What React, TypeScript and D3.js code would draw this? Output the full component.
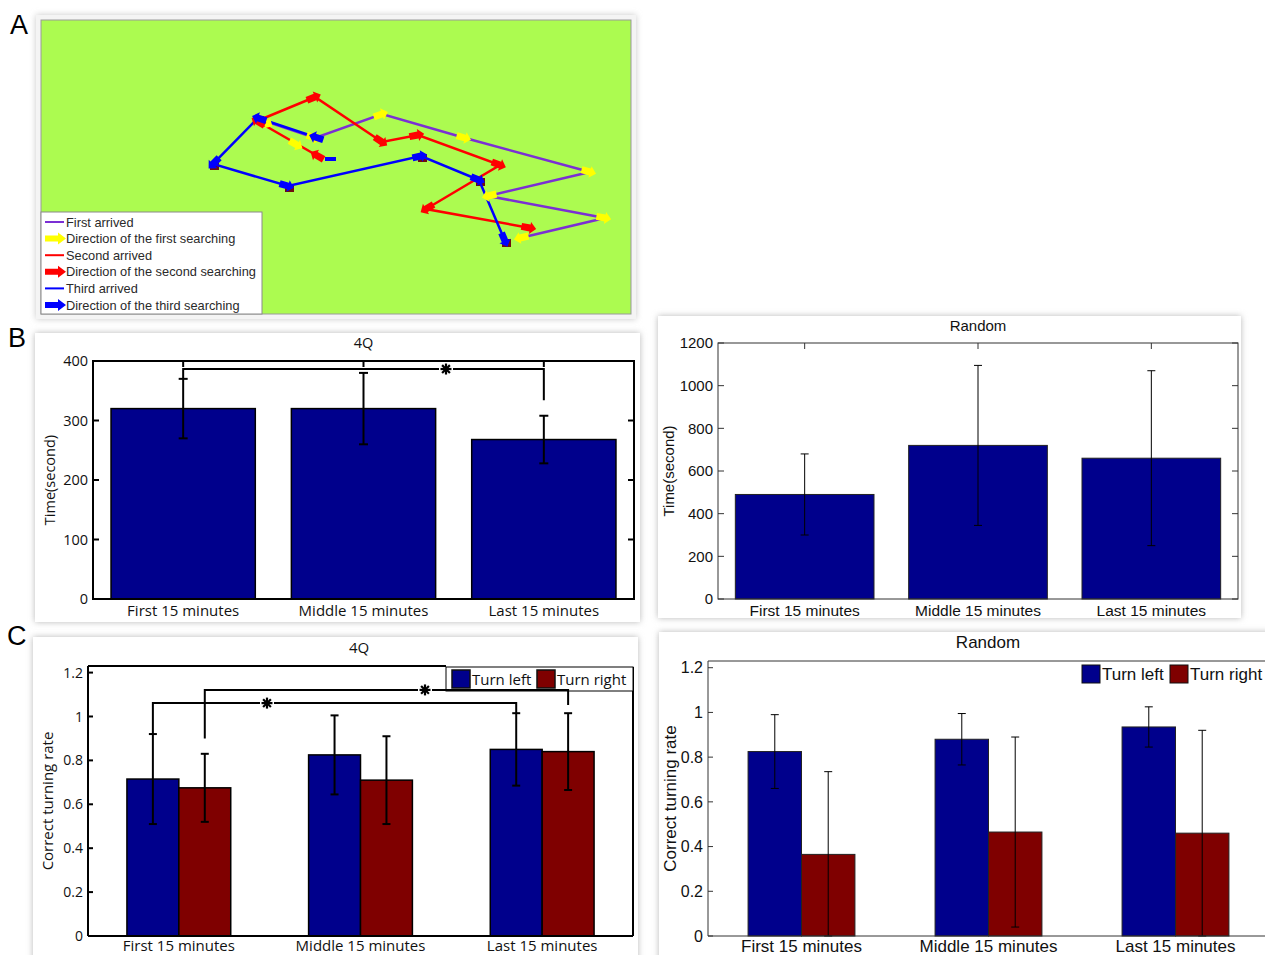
import React from 'react';
import * as d3 from 'd3';

// ---------- DATA ----------
const categories = ['First 15 minutes', 'Middle 15 minutes', 'Last 15 minutes'];

const time4QMean = [320, 320, 268];
const time4QErr = [50, 60, 40];
const time4QTicks = [0, 100, 200, 300, 400];

const timeRandomMean = [490, 720, 660];
const timeRandomErr = [190, 375, 410];
const timeRandomTicks = [0, 200, 400, 600, 800, 1000, 1200];

const turnLeft4Q = [0.715, 0.825, 0.85];
const turnLeft4QErr = [0.205, 0.18, 0.165];
const turnRight4Q = [0.675, 0.71, 0.84];
const turnRight4QErr = [0.155, 0.2, 0.175];

const turnLeftRandom = [0.825, 0.88, 0.935];
const turnLeftRandomErr = [0.165, 0.115, 0.09];
const turnRightRandom = [0.365, 0.465, 0.46];
const turnRightRandomErr = [0.37, 0.425, 0.46];

const rateTicks = [0, 0.2, 0.4, 0.6, 0.8, 1, 1.2];
const rateTickLabels = ['0', '0.2', '0.4', '0.6', '0.8', '1', '1.2'];
const seriesNames = ['Turn left', 'Turn right'];

// Panel A trajectories (arena units)
const firstPath = [[221, 100], [274, 118], [341, 94], [424, 118], [549, 152], [447, 176], [564, 198], [479, 218]];
const secondPath = [[275, 135], [216, 101], [274, 77], [341, 122], [377, 115], [459, 145], [385, 189], [489, 208]];
const thirdPath = [[274, 117], [217, 98], [172, 144], [247, 166], [380, 136], [438, 160], [464, 221]];
const thirdDash = [[284, 139], [295, 139]];
const extraYellowMarks = [[226, 103, 30], [256, 125, 30]];

const legendAItems = [
  { label: 'First arrived', kind: 'line', color: '#7b2fd4' },
  { label: 'Direction of the first searching', kind: 'arrow', color: '#ffff00' },
  { label: 'Second arrived', kind: 'line', color: '#ff0000' },
  { label: 'Direction of the second searching', kind: 'arrow', color: '#ff0000' },
  { label: 'Third arrived', kind: 'line', color: '#0000ff' },
  { label: 'Direction of the third searching', kind: 'arrow', color: '#0000ff' },
];

// ---------- STYLE ----------
const BLUE = '#00008c';
const MAROON = '#7f0000';
const MY = "'Open Sans', 'DejaVu Sans', sans-serif";
const AR = "'Liberation Sans', Arial, sans-serif";

function Card({ x, y, w, h }: any) {
  return (
    <g>
      <rect x={x} y={y} width={w} height={h} fill="#b8b8b8" filter="url(#sh)" />
      <rect x={x} y={y} width={w} height={h} fill="#fff" />
    </g>
  );
}

function Arrow({ x, y, angle, color, s = 1.25 }: any) {
  const pts = `${-7 * s},${-2.8 * s} 0,${-2.8 * s} 0,${-4.8 * s} ${5 * s},0 0,${4.8 * s} 0,${2.8 * s} ${-7 * s},${2.8 * s}`;
  return <polygon points={pts} fill={color} transform={`translate(${x},${y}) rotate(${angle})`} />;
}

function Star({ x, y, r = 5, w = 2 }: any) {
  const a = [0, 45, 90, 135];
  return (
    <g>
      {a.map((d) => {
        const rad = (d * Math.PI) / 180;
        return (
          <line key={d} x1={x - r * Math.cos(rad)} y1={y - r * Math.sin(rad)} x2={x + r * Math.cos(rad)} y2={y + r * Math.sin(rad)} stroke="#000" strokeWidth={w} />
        );
      })}
    </g>
  );
}

function PanelA() {
  const ax = d3.scaleLinear().domain([0, 590]).range([41, 631]);
  const ay = d3.scaleLinear().domain([0, 294]).range([20, 314]);
  const line = d3.line<number[]>().x((d) => ax(d[0])).y((d) => ay(d[1]));
  const ang = (p: number[][], i: number) => {
    const a = i === 0 ? p[0] : p[i - 1];
    const b = i === 0 ? p[1] : p[i];
    return (Math.atan2(ay(b[1]) - ay(a[1]), ax(b[0]) - ax(a[0])) * 180) / Math.PI;
  };
  return (
    <g>
      <rect x={36} y={15} width={600} height={304} fill="#c8c8c8" filter="url(#sh)" />
      <rect x={36} y={15} width={600} height={304} fill="#f4f4f4" />
      <rect x={ax(0)} y={ay(0)} width={ax(590) - ax(0)} height={ay(294) - ay(0)} fill="#acfb50" stroke="#9a9a9a" strokeWidth={1} />
      {thirdPath.slice(1).map((p, i) => (
        <rect key={'dk' + i} x={ax(p[0]) - 3} y={ay(p[1]) - 2} width={9} height={8} fill="#6e0d0d" />
      ))}
      <path d={line(firstPath as any) || ''} fill="none" stroke="#7b2fd4" strokeWidth={2.5} />
      <path d={line(secondPath as any) || ''} fill="none" stroke="#ff0000" strokeWidth={2.5} />
      <path d={line(thirdPath as any) || ''} fill="none" stroke="#0000ff" strokeWidth={2.5} />
      <path d={line(thirdDash as any) || ''} fill="none" stroke="#0000ff" strokeWidth={4} />
      {firstPath.slice(1).map((p, i) => (
        <Arrow key={'y' + i} x={ax(p[0])} y={ay(p[1])} angle={ang(firstPath, i + 1)} color="#ffff00" />
      ))}
      {extraYellowMarks.map((p, i) => (
        <Arrow key={'ye' + i} x={ax(p[0])} y={ay(p[1])} angle={p[2]} color="#ffff00" />
      ))}
      {secondPath.map((p, i) => (
        <Arrow key={'r' + i} x={ax(p[0])} y={ay(p[1])} angle={ang(secondPath, i)} color="#ff0000" />
      ))}
      {thirdPath.map((p, i) => (
        <Arrow key={'b' + i} x={ax(p[0])} y={ay(p[1])} angle={ang(thirdPath, i)} color="#0000ff" />
      ))}
      <rect x={41} y={212} width={221} height={102} fill="#fff" stroke="#8a8a8a" strokeWidth={1} />
      {legendAItems.map((it, i) => {
        const yy = 222 + i * 16.6;
        return (
          <g key={it.label}>
            {it.kind === 'line' ? (
              <line x1={45} x2={64} y1={yy} y2={yy} stroke={it.color} strokeWidth={2} />
            ) : (
              <polygon points={`45,${yy - 3} 58,${yy - 3} 58,${yy - 6} 66,${yy} 58,${yy + 6} 58,${yy + 3} 45,${yy + 3}`} fill={it.color} />
            )}
            <text x={66} y={yy + 4.5} fontFamily={AR} fontSize={12.8} fill="#2a2a2a">{it.label}</text>
          </g>
        );
      })}
    </g>
  );
}

function SimpleBars({ x0, x1, yb, yt, ymax, means, errs, ticks, thick, font, fs, title, titleY, ylabel, ylabelX, catY, catFs, bracket }: any) {
  const x = d3.scaleLinear().domain([0.5, 3.5]).range([x0, x1]);
  const y = d3.scaleLinear().domain([0, ymax]).range([yb, yt]);
  const sw = thick ? 2 : 1;
  const axCol = thick ? '#000' : '#333';
  const bw = x(0.8) - x(0);
  return (
    <g>
      {ticks.map((t: number) => (
        <g key={t}>
          <line x1={x0} x2={x0 + 6} y1={y(t)} y2={y(t)} stroke={axCol} strokeWidth={sw} />
          <line x1={x1} x2={x1 - 6} y1={y(t)} y2={y(t)} stroke={axCol} strokeWidth={sw} />
          <text x={x0 - 5} y={y(t) + fs * 0.36} textAnchor="end" fontFamily={font} fontSize={fs} fill="#111">{t}</text>
        </g>
      ))}
      {categories.map((c, i) => (
        <line key={'tt' + i} x1={x(i + 1)} x2={x(i + 1)} y1={yt} y2={yt + 6} stroke={axCol} strokeWidth={sw} />
      ))}
      {means.map((m: number, i: number) => (
        <rect key={'b' + i} x={x(i + 1) - bw / 2} y={y(m)} width={bw} height={y(0) - y(m)} fill={BLUE} stroke={thick ? '#000' : '#222'} strokeWidth={thick ? 1.5 : 1} />
      ))}
      {means.map((m: number, i: number) => {
        const cx = x(i + 1);
        const lo = y(Math.max(0, m - errs[i]));
        const hi = y(m + errs[i]);
        const cw = thick ? 4.5 : 4;
        return (
          <g key={'e' + i} stroke="#000" strokeWidth={sw}>
            <line x1={cx} x2={cx} y1={lo} y2={hi} />
            <line x1={cx - cw} x2={cx + cw} y1={hi} y2={hi} />
            <line x1={cx - cw} x2={cx + cw} y1={lo} y2={lo} />
          </g>
        );
      })}
      <rect x={x0} y={yt} width={x1 - x0} height={yb - yt} fill="none" stroke={axCol} strokeWidth={sw} />
      {categories.map((c, i) => (
        <text key={'c' + i} x={x(i + 1)} y={catY} textAnchor="middle" fontFamily={font} fontSize={catFs} fill="#111">{c}</text>
      ))}
      <text x={(x0 + x1) / 2} y={titleY} textAnchor="middle" fontFamily={font} fontSize={fs} fill="#111">{title}</text>
      <text transform={`translate(${ylabelX},${(yt + yb) / 2}) rotate(-90)`} textAnchor="middle" fontFamily={font} fontSize={fs} fill="#111">{ylabel}</text>
      {bracket && (
        <g stroke="#000" strokeWidth={2} fill="none">
          <path d={`M${x(1)},${y(bracket.leftEnd)} V${y(bracket.level)} H${bracket.starX - 7}`} />
          <path d={`M${bracket.starX + 7},${y(bracket.level)} H${x(3)} V${y(bracket.rightEnd)}`} />
          <Star x={bracket.starX} y={y(bracket.level)} r={5.5} w={2.2} />
        </g>
      )}
    </g>
  );
}

function GroupBars({ x0, x1, yb, yt, ymax, left, leftErr, right, rightErr, thick, font, fs, title, titleX, titleY, ylabel, ylabelX, catY, catFs, legend, brackets, topEnd }: any) {
  const x = d3.scaleLinear().domain([0.5, 3.5]).range([x0, x1]);
  const y = d3.scaleLinear().domain([0, ymax]).range([yb, yt]);
  const sw = thick ? 2 : 1;
  const axCol = thick ? '#000' : '#333';
  const bw = x(2 / 7) - x(0);
  const off = 1 / 7;
  const series = [
    { vals: left, errs: leftErr, col: BLUE, dx: -off },
    { vals: right, errs: rightErr, col: MAROON, dx: off },
  ];
  return (
    <g>
      {series.map((s, si) =>
        s.vals.map((m: number, i: number) => (
          <rect key={`b${si}${i}`} x={x(i + 1 + s.dx) - bw / 2} y={y(m)} width={bw} height={y(0) - y(m)} fill={s.col} stroke={thick ? '#000' : '#222'} strokeWidth={thick ? 1.5 : 1} />
        ))
      )}
      {series.map((s, si) =>
        s.vals.map((m: number, i: number) => {
          const cx = x(i + 1 + s.dx);
          const lo = y(Math.max(0, m - s.errs[i]));
          const hi = y(m + s.errs[i]);
          const cw = 4;
          return (
            <g key={`e${si}${i}`} stroke="#000" strokeWidth={sw}>
              <line x1={cx} x2={cx} y1={lo} y2={hi} />
              <line x1={cx - cw} x2={cx + cw} y1={hi} y2={hi} />
              <line x1={cx - cw} x2={cx + cw} y1={lo} y2={lo} />
            </g>
          );
        })
      )}
      <line x1={x0} x2={x0} y1={yt} y2={yb} stroke={axCol} strokeWidth={sw} />
      <line x1={x0} x2={x1} y1={yb} y2={yb} stroke={axCol} strokeWidth={sw} />
      <line x1={x0} x2={topEnd} y1={yt} y2={yt} stroke={axCol} strokeWidth={sw} />
      {thick && <line x1={x1} x2={x1} y1={legend.y} y2={yb} stroke={axCol} strokeWidth={sw} />}
      {rateTicks.map((t, i) => (
        <g key={t}>
          <line x1={x0} x2={x0 + 5} y1={y(t)} y2={y(t)} stroke={axCol} strokeWidth={sw} />
          <text x={x0 - 5} y={y(t) + fs * 0.36} textAnchor="end" fontFamily={font} fontSize={fs} fill="#111">{rateTickLabels[i]}</text>
        </g>
      ))}
      {categories.map((c, i) => (
        <text key={'c' + i} x={x(i + 1)} y={catY} textAnchor="middle" fontFamily={font} fontSize={catFs} fill="#111">{c}</text>
      ))}
      <text x={titleX} y={titleY} textAnchor="middle" fontFamily={font} fontSize={fs + 1} fill="#111">{title}</text>
      <text transform={`translate(${ylabelX},${(yt + yb) / 2}) rotate(-90)`} textAnchor="middle" fontFamily={font} fontSize={fs + 1} fill="#111">{ylabel}</text>
      <g>
        {thick && <rect x={legend.x} y={legend.y} width={legend.w} height={legend.h} fill="#fff" stroke="#000" strokeWidth={1} />}
        {seriesNames.map((n, i) => {
          const lx = legend.items[i];
          return (
            <g key={n}>
              <rect x={lx} y={legend.y + 3} width={18} height={18} fill={i === 0 ? BLUE : MAROON} stroke="#111" strokeWidth={thick ? 1.5 : 1} />
              <text x={lx + 20} y={legend.y + 18} fontFamily={font} fontSize={legend.fs} fill="#111">{n}</text>
            </g>
          );
        })}
      </g>
      {brackets &&
        brackets.map((b: any, i: number) => {
          const xl = x(b.from[0] + 1 + (b.from[1] === 0 ? -off : off));
          const xr = x(b.to[0] + 1 + (b.to[1] === 0 ? -off : off));
          const yl = y(b.level);
          return (
            <g key={'br' + i} stroke="#000" strokeWidth={2} fill="none">
              <path d={`M${xl},${y(b.leftEnd)} V${yl} H${b.starX - 7}`} />
              <path d={`M${b.starX + 7},${yl} H${xr} V${y(b.rightEnd)}`} />
              <Star x={b.starX} y={yl} r={5.5} w={2.2} />
            </g>
          );
        })}
    </g>
  );
}

export default function App() {
  return (
    <svg width={1265} height={955} style={{ position: 'absolute', left: 0, top: 0, background: '#fff' }}>
      <defs>
        <filter id="sh" x="-5%" y="-5%" width="110%" height="110%">
          <feGaussianBlur stdDeviation={3} />
        </filter>
      </defs>
      <rect x={0} y={0} width={1265} height={955} fill="#fff" />
      <text x={10} y={34} fontFamily={AR} fontSize={27} fill="#000">A</text>
      <text x={8} y={347} fontFamily={AR} fontSize={27} fill="#000">B</text>
      <text x={7} y={645} fontFamily={AR} fontSize={27} fill="#000">C</text>

      <PanelA />

      <Card x={35} y={333} w={605} h={289} />
      <SimpleBars
        x0={93} x1={634} yb={599} yt={361} ymax={400}
        means={time4QMean} errs={time4QErr} ticks={time4QTicks}
        thick font={MY} fs={14.5} title="4Q" titleY={348}
        ylabel="Time(second)" ylabelX={55} catY={616} catFs={15}
        bracket={{ level: 386.5, leftEnd: 370, rightEnd: 334, starX: 446 }}
      />

      <Card x={658} y={316} w={583} h={302} />
      <SimpleBars
        x0={718} x1={1238} yb={599} yt={343} ymax={1200}
        means={timeRandomMean} errs={timeRandomErr} ticks={timeRandomTicks}
        thick={false} font={AR} fs={15} title="Random" titleY={331}
        ylabel="Time(second)" ylabelX={674} catY={616} catFs={15.5}
      />

      <Card x={33} y={637} w={605} h={330} />
      <GroupBars
        x0={88} x1={633} yb={936} yt={666} ymax={1.23}
        left={turnLeft4Q} leftErr={turnLeft4QErr} right={turnRight4Q} rightErr={turnRight4QErr}
        thick font={MY} fs={14} title="4Q" titleX={359} titleY={653}
        ylabel="Correct turning rate" ylabelX={53} catY={951} catFs={15}
        topEnd={446}
        legend={{ x: 446, y: 667, w: 187, h: 24, items: [452, 537], fs: 15 }}
        brackets={[
          { from: [0, 0], to: [2, 0], level: 1.061, leftEnd: 0.92, rightEnd: 1.015, starX: 267 },
          { from: [0, 1], to: [2, 1], level: 1.121, leftEnd: 0.9, rightEnd: 1.052, starX: 425 },
        ]}
      />

      <Card x={659} y={632} w={620} h={340} />
      <GroupBars
        x0={708} x1={1269} yb={936} yt={661} ymax={1.23}
        left={turnLeftRandom} leftErr={turnLeftRandomErr} right={turnRightRandom} rightErr={turnRightRandomErr}
        thick={false} font={AR} fs={16} title="Random" titleX={988} titleY={648}
        ylabel="Correct turning rate" ylabelX={676} catY={952} catFs={17}
        topEnd={1265}
        legend={{ x: 1080, y: 662, w: 185, h: 24, items: [1082, 1170], fs: 17 }}
      />
    </svg>
  );
}
